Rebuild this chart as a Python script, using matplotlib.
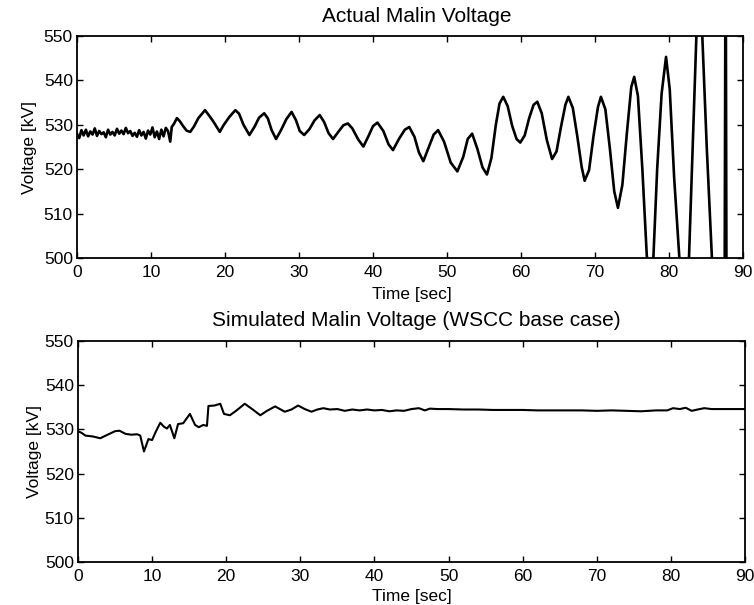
#!/usr/bin/env python3
import matplotlib
matplotlib.use("Agg")
import matplotlib.pyplot as plt

# Actual Malin voltage
actual_t = [
    0.0, 0.3, 0.6, 0.9, 1.2, 1.5, 1.8, 2.1, 2.4, 2.7, 3.0, 3.3, 3.6, 3.9, 4.2,
    4.5, 4.8, 5.1, 5.4, 5.7, 6.0, 6.3, 6.6, 6.9, 7.2, 7.5, 7.8, 8.1, 8.4, 8.7,
    9.0, 9.3, 9.6, 9.9, 10.2, 10.5, 10.8, 11.1, 11.4, 11.7, 12.0, 12.3, 12.6,
    12.8, 13.1, 13.5, 13.9, 14.3, 14.8, 15.3, 15.8, 16.4, 17.3, 17.8, 18.4,
    19.3, 19.8, 20.6, 21.4, 21.9, 22.5, 23.3, 24.0, 24.6, 25.3, 25.8, 26.3,
    26.9, 27.6, 28.3, 29.0, 29.6, 30.1, 30.7, 31.4, 32.1, 32.8, 33.4, 34.0,
    34.6, 35.4, 36.0, 36.6, 37.2, 38.0, 38.7, 39.4, 40.0, 40.6, 41.4, 42.1,
    42.7, 43.5, 44.3, 44.9, 45.6, 46.2, 46.8, 47.5, 48.2, 48.8, 49.6, 50.5,
    51.4, 52.2, 52.8, 53.4, 54.1, 54.8, 55.4, 56.0, 56.6, 57.1, 57.6, 58.2,
    58.8, 59.4, 59.9, 60.5, 61.1, 61.7, 62.2, 62.8, 63.5, 64.2, 64.8, 65.4,
    66.0, 66.4, 67.0, 67.6, 68.2, 68.6, 69.2, 69.8, 70.4, 70.8, 71.4, 72.0,
    72.6, 73.1, 73.7, 74.3, 74.9, 75.3, 75.8, 76.4, 77.0, 77.5, 77.9, 78.4,
    79.0, 79.6, 80.1, 80.7, 81.4, 82.0, 82.7, 83.2, 83.7, 84.1, 84.5, 85.1,
    85.8, 86.6, 87.5, 87.65, 87.8, 90.0,
]
actual_v = [
    528.0, 527.0, 528.8, 527.6, 528.9, 527.4, 528.5, 527.8, 529.2, 527.5,
    528.6, 527.9, 528.3, 527.2, 528.9, 527.8, 528.4, 527.6, 529.1, 528.0,
    528.7, 527.9, 529.3, 528.1, 528.6, 527.5, 528.2, 527.3, 528.8, 527.6,
    528.4, 526.9, 528.7, 527.8, 529.4, 527.2, 528.5, 526.8, 528.9, 527.4,
    529.3, 528.6, 526.2, 529.5, 530.2, 531.5, 530.8, 529.8, 528.7, 528.4,
    529.6, 531.5, 533.3, 532.2, 530.8, 528.4, 529.9, 531.8, 533.3, 532.5,
    530.0, 527.7, 529.6, 531.6, 532.6, 531.4, 528.8, 526.8, 528.9, 531.3,
    532.9, 531.0, 528.6, 527.7, 529.0, 531.0, 532.2, 530.6, 528.1, 526.8,
    528.6, 529.9, 530.3, 529.2, 526.7, 525.1, 527.5, 529.7, 530.5, 528.6,
    525.6, 524.3, 526.8, 528.9, 529.5, 527.3, 523.8, 521.8, 524.8, 527.8,
    528.8, 526.2, 521.5, 519.5, 522.8, 526.8, 528.0, 524.6, 520.4, 518.8,
    522.5, 530.0, 534.8, 536.3, 534.2, 529.8, 526.8, 526.0, 527.6, 531.5,
    534.5, 535.2, 532.6, 526.5, 522.3, 524.0, 529.5, 534.5, 536.3, 533.8,
    527.5, 520.5, 517.4, 519.8, 527.5, 534.0, 536.3, 533.5, 524.8, 515.0,
    511.3, 516.5, 528.0, 538.5, 540.8, 536.5, 520.0, 500.5, 494.0, 500.5,
    520.0, 537.0, 545.3, 538.0, 518.0, 500.0, 490.0, 500.0, 525.0, 550.0,
    556.0, 550.0, 525.0, 500.0, 470.0, 480.0, 580.0, 470.0, 470.0,
]

# Simulated Malin voltage (WSCC base case)
sim_t = [
    0.0, 0.5, 1.0, 2.0, 3.0, 4.0, 5.0, 5.6, 6.4, 7.2, 8.0, 8.4, 8.9, 9.5,
    10.0, 10.5, 11.1, 11.6, 12.0, 12.4, 13.0, 13.5, 14.2, 15.1, 15.8, 16.3,
    16.9, 17.4, 17.6, 18.4, 19.2, 19.7, 20.5, 21.4, 22.5, 23.5, 24.6, 25.5,
    26.6, 27.9, 28.8, 29.7, 30.6, 31.5, 32.3, 33.1, 34.0, 35.0, 36.0, 37.0,
    38.0, 39.0, 40.0, 41.0, 42.0, 43.0, 44.0, 45.0, 46.0, 46.8, 47.5, 48.5,
    50.0, 52.0, 54.0, 56.0, 58.0, 60.0, 62.0, 64.0, 66.0, 68.0, 70.0, 72.0,
    74.0, 76.0, 78.0, 79.5, 80.3, 81.2, 82.0, 82.8, 83.6, 84.5, 85.5, 87.0,
    88.5, 90.0,
]
sim_v = [
    529.6, 529.2, 528.6, 528.4, 528.0, 528.8, 529.6, 529.7, 529.0, 528.8,
    528.9, 528.6, 525.0, 527.8, 527.6, 529.5, 531.5, 530.6, 530.2, 531.0,
    528.0, 531.2, 531.4, 533.5, 531.0, 530.5, 531.0, 530.8, 535.3, 535.4,
    535.8, 533.5, 533.2, 534.3, 535.8, 534.6, 533.2, 534.2, 535.2, 534.0,
    534.5, 535.4, 534.6, 534.0, 534.5, 534.8, 534.5, 534.6, 534.2, 534.5,
    534.3, 534.5, 534.3, 534.4, 534.1, 534.3, 534.2, 534.6, 534.8, 534.3,
    534.7, 534.6, 534.6, 534.5, 534.5, 534.4, 534.4, 534.4, 534.3, 534.3,
    534.3, 534.3, 534.2, 534.3, 534.2, 534.1, 534.3, 534.3, 534.8, 534.6,
    534.9, 534.2, 534.5, 534.8, 534.6, 534.6, 534.6, 534.6,
]

x_ticks = [0, 10, 20, 30, 40, 50, 60, 70, 80, 90]
y_ticks = [500, 510, 520, 530, 540, 550]

plt.rcParams["font.family"] = ["Liberation Sans", "DejaVu Sans"]

W, H = 754, 605
fig = plt.figure(figsize=(W / 100, H / 100), dpi=100)


def style_axes(ax, ylab_x):
    ax.set_xlim(0, 90)
    ax.set_ylim(500, 550)
    ax.set_xticks(x_ticks)
    ax.set_yticks(y_ticks)
    ax.tick_params(direction="in", length=4, width=1.0, top=True, right=True,
                   labelsize=12.5, colors="black")
    ax.tick_params(axis="x", pad=5)
    ax.tick_params(axis="y", pad=3)
    for s in ax.spines.values():
        s.set_linewidth(1.3)
        s.set_color("black")
    ax.set_ylabel("Voltage [kV]", fontsize=12.5)
    ax.yaxis.set_label_coords(ylab_x, 0.5)


# top panel: actual
ax1 = fig.add_axes([77 / W, 1 - 258 / H, 666 / W, 222 / H])
ax1.plot(actual_t, actual_v, color="black", lw=1.9)
style_axes(ax1, -0.060)
fig.text(417 / W, 1 - 17 / H, "Actual Malin Voltage", ha="center", va="center",
         fontsize=15)
fig.text(412 / W, 1 - 295 / H, "Time [sec]", ha="center", va="center",
         fontsize=12.5)

# bottom panel: simulated
ax2 = fig.add_axes([78 / W, 1 - 562 / H, 667 / W, 221 / H])
ax2.plot(sim_t, sim_v, color="black", lw=1.5)
style_axes(ax2, -0.054)
fig.text(416 / W, 1 - 320 / H, "Simulated Malin Voltage (WSCC base case)",
         ha="center", va="center", fontsize=15)
fig.text(412 / W, 1 - 596 / H, "Time [sec]", ha="center", va="center",
         fontsize=12.5)

fig.savefig("out.png", dpi=100)
